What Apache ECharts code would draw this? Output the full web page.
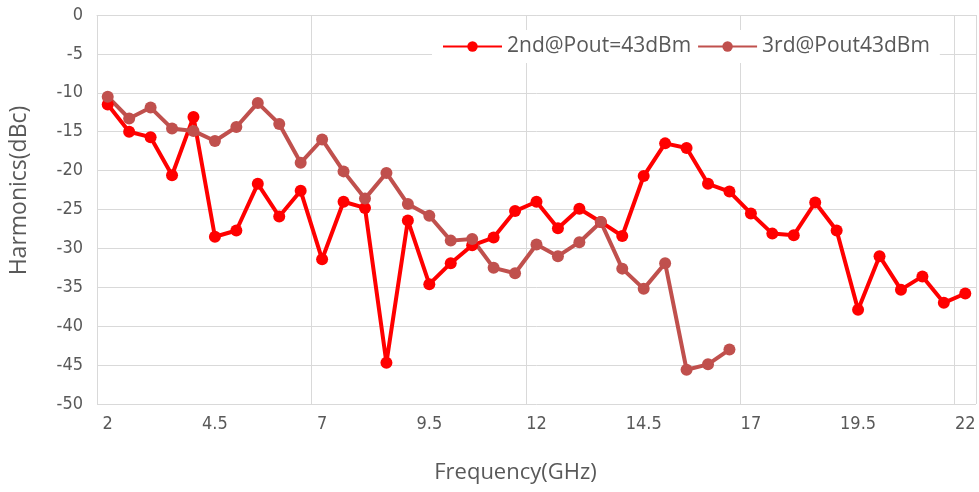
<!DOCTYPE html>
<html>
<head>
<meta charset="utf-8">
<script src="https://cdn.jsdelivr.net/npm/echarts@6/dist/echarts.min.js"></script>
<style>
html,body{margin:0;padding:0;background:#fff;}
#chart{width:979px;height:492px;}
</style>
</head>
<body>
<div id="chart"></div>
<script>
var frequencies = ['2','2.5','3','3.5','4','4.5','5','5.5','6','6.5','7','7.5','8','8.5','9','9.5','10','10.5','11','11.5','12','12.5','13','13.5','14','14.5','15','15.5','16','16.5','17','17.5','18','18.5','19','19.5','20','20.5','21','21.5','22'];
var second = [-11.5,-15.0,-15.7,-20.6,-13.1,-28.5,-27.7,-21.7,-25.9,-22.6,-31.4,-24.0,-24.8,-44.7,-26.4,-34.6,-31.9,-29.6,-28.6,-25.2,-24.0,-27.4,-24.9,-26.6,-28.4,-20.7,-16.5,-17.1,-21.7,-22.7,-25.5,-28.1,-28.3,-24.1,-27.7,-37.9,-31.0,-35.3,-33.6,-37.0,-35.8];
var third = [-10.5,-13.3,-11.9,-14.6,-14.9,-16.2,-14.4,-11.3,-14.0,-19.0,-16.0,-20.1,-23.6,-20.3,-24.3,-25.8,-29.0,-28.8,-32.5,-33.2,-29.5,-31.0,-29.2,-26.6,-32.6,-35.2,-31.9,-45.6,-44.9,-43.0,null,null,null,null,null,null,null,null,null,null,null];
var seriesNames = ['2nd@Pout=43dBm','3rd@Pout43dBm'];

var chart = echarts.init(document.getElementById('chart'), null, {renderer:'canvas'});
var tickFont = "'Liberation Sans Narrow','DejaVu Sans Condensed','Open Sans',sans-serif";
chart.setOption({
  animation: false,
  backgroundColor: '#ffffff',
  grid: {left: 95, right: 3, top: 15, bottom: 88, containLabel: false},
  legend: {
    data: seriesNames,
    left: 432, top: 30,
    backgroundColor: '#ffffff',
    padding: [6, 10],
    itemWidth: 59, itemHeight: 13, itemGap: 6,
    textStyle: {fontFamily: "'Open Sans',sans-serif", fontSize: 21, color: '#595959'}
  },
  xAxis: {
    type: 'category',
    data: frequencies,
    boundaryGap: true,
    name: 'Frequency(GHz)',
    nameLocation: 'middle',
    nameGap: 58,
    nameTextStyle: {fontFamily: "'Open Sans',sans-serif", fontSize: 22, color: '#595959', padding: [0, 42, 0, 0]},
    axisLine: {show: true, lineStyle: {color: '#D9D9D9', width: 1}},
    axisTick: {show: false},
    axisLabel: {interval: 4, margin: 11, fontFamily: tickFont, fontSize: 18, color: '#595959'},
    splitLine: {show: true, interval: 9, lineStyle: {color: '#D9D9D9', width: 1}}
  },
  yAxis: {
    type: 'value',
    min: -50, max: 0, interval: 5,
    name: 'Harmonics(dBc)',
    nameLocation: 'middle',
    nameGap: 66,
    nameTextStyle: {fontFamily: "'Open Sans',sans-serif", fontSize: 23, color: '#595959', padding: [0, 0, 0, 38]},
    axisLine: {show: false},
    axisTick: {show: false},
    axisLabel: {margin: 14, fontFamily: tickFont, fontSize: 18, color: '#595959'},
    splitLine: {show: true, lineStyle: {color: '#D9D9D9', width: 1}}
  },
  series: [
    {
      name: seriesNames[0], type: 'line', data: second,
      symbol: 'circle', symbolSize: 12,
      itemStyle: {color: '#FF0000'},
      lineStyle: {color: '#FF0000', width: 4}
    },
    {
      name: seriesNames[1], type: 'line', data: third,
      symbol: 'circle', symbolSize: 12,
      connectNulls: false,
      itemStyle: {color: '#C0504D'},
      lineStyle: {color: '#C0504D', width: 4}
    }
  ]
});
</script>
</body>
</html>
